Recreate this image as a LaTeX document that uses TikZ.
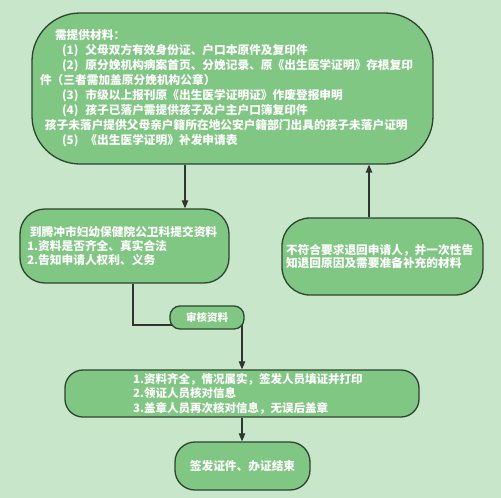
\documentclass[tikz,border=0pt]{standalone}
\usepackage{fontspec}
\setmainfont{Noto Sans CJK SC}
\usepackage{tikz}
\usetikzlibrary{arrows.meta, positioning, backgrounds}
\definecolor{bgmint}{HTML}{C8E6C9}
\definecolor{leafgreen}{HTML}{81C784}
\definecolor{edgegreen}{HTML}{2E4430}

\begin{document}
\begin{tikzpicture}[
    x=1pt, y=-1pt,
    flow/.style={rectangle, draw=edgegreen, fill=leafgreen, line width=1.3pt, text=white, font=\bfseries\fontsize{11.7}{15}\selectfont, inner sep=0pt, align=left},
    link/.style={line width=1.1pt, draw=black!80},
    arrow/.style={link, -{Triangle[length=8pt, width=6.5pt]}}
]
\useasboundingbox (0,0) rectangle (501,498);
\node[flow, minimum width=401pt, minimum height=151pt, rounded corners=48pt, text width=385pt] (need) at (232.5,88.5) {\hspace*{15pt}需提供材料：\\
\hspace*{22pt}(1)\hspace{7pt}父母双方有效身份证、户口本原件及复印件\\
\hspace*{22pt}(2)\hspace{7pt}原分娩机构病案首页、分娩记录、原《出生医学证明》存根复印\\
件（三者需加盖原分娩机构公章）\\
\hspace*{22pt}(3)\hspace{7pt}市级以上报刊原《出生医学证明证》作废登报申明\\
\hspace*{22pt}(4)\hspace{7pt}孩子已落户需提供孩子及户主户口簿复印件\\
\hspace*{5pt}孩子未落户提供父母亲户籍所在地公安户籍部门出具的孩子未落户证明\\
\hspace*{22pt}(5)\hspace{7pt}《出生医学证明》补发申请表};
\node[flow, minimum width=209pt, minimum height=74pt, rounded corners=25pt, text width=200pt, font=\bfseries\fontsize{11.7}{14}\selectfont] (submit) at (124.5,246) {\hspace*{5.5pt}到腾冲市妇幼保健院公卫科提交资料\\
\hspace*{2.5pt}1.资料是否齐全、真实合法\\
\hspace*{2.5pt}2.告知申请人权利、义务};
\node[flow, minimum width=201pt, minimum height=77pt, rounded corners=28pt, text width=193pt, font=\bfseries\fontsize{11.7}{13.5}\selectfont] (reject) at (382.5,256.5) {不符合要求退回申请人，并一次性告\\知退回原因及需要准备补充的材料};
\node[flow, minimum width=74pt, minimum height=23pt, rounded corners=10pt, align=center, font=\bfseries\fontsize{10.5}{12}\selectfont] (audit) at (207,317.5) {审核资料};
\node[flow, minimum width=354pt, minimum height=47pt, rounded corners=18pt, text width=280pt, font=\bfseries\fontsize{11.5}{14.5}\selectfont] (issue) at (242,393.5) {\hspace*{31pt}1.资料齐全，情况属实，签发人员填证并打印\\
\hspace*{31pt}2.领证人员核对信息\\
\hspace*{31pt}3.盖章人员再次核对信息，无误后盖章};
\node[flow, minimum width=135pt, minimum height=48pt, rounded corners=20pt, align=center] (finish) at (242.5,466) {签发证件、办证结束};
\begin{scope}[on background layer]
\fill[bgmint] (0,0) rectangle (501,498);
\draw[arrow] (need.south -| 185,0) -- (submit.north -| 185,0);
\draw[arrow] (reject.north -| 369,0) -- (need.south -| 369,0);
\draw[link] (submit.south -| 133,0) |- ([yshift=-7.5pt]audit.center);
\draw[arrow] (audit.center -| 242,0) -- (issue.north -| 242,0);
\draw[arrow] (issue.south -| 242,0) -- (finish.north -| 242,0);
\end{scope}
\end{tikzpicture}
\end{document}
